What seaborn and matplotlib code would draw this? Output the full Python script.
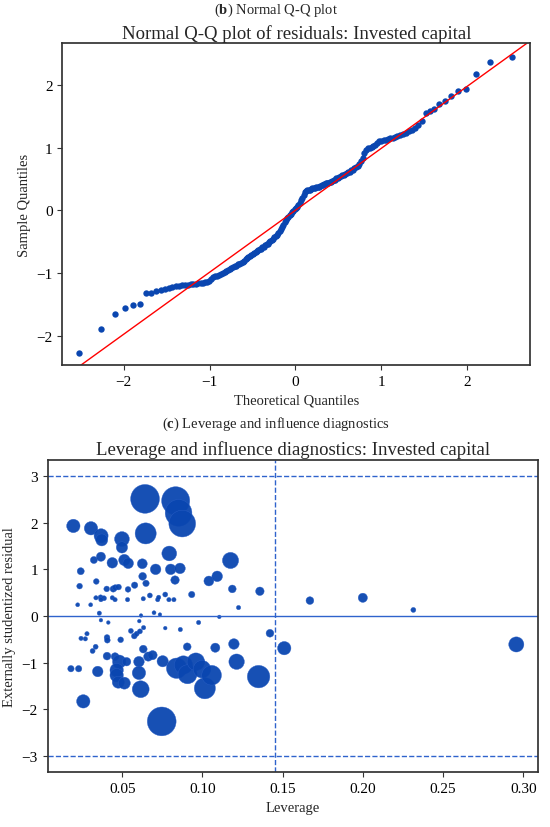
from statistics import NormalDist

import matplotlib
matplotlib.use("Agg")
import matplotlib.pyplot as plt
import numpy as np
import seaborn as sns

# panel (b): sorted residuals
qq_sample = [
    -2.27, -1.90, -1.65, -1.56, -1.51, -1.49, -1.32, -1.31, -1.29, -1.27,
    -1.25, -1.24, -1.22, -1.21, -1.20, -1.195,
    -1.19, -1.185, -1.18, -1.175, -1.17, -1.165, -1.16, -1.155, -1.15, -1.145, -1.13,
    -1.10, -1.07, -1.05, -1.04, -1.03, -1.02, -1.00, -0.99, -0.97, -0.95, -0.94, -0.92, -0.91,
    -0.89, -0.88, -0.86, -0.85, -0.84, -0.82, -0.80, -0.78, -0.76, -0.75,
    -0.73, -0.71, -0.70, -0.68, -0.67, -0.65, -0.64, -0.62, -0.61, -0.59,
    -0.58, -0.56, -0.54, -0.53, -0.51, -0.49, -0.47, -0.45, -0.43, -0.41,
    -0.39, -0.36, -0.33, -0.30, -0.26, -0.23, -0.19, -0.15, -0.12, -0.10,
    -0.08, -0.06, -0.03, -0.01, 0.02, 0.04, 0.06, 0.09, 0.12, 0.16,
    0.20, 0.25, 0.29, 0.31, 0.32, 0.33, 0.33, 0.34, 0.35, 0.36,
    0.36, 0.37, 0.38, 0.38, 0.39, 0.40, 0.41, 0.42, 0.43, 0.43,
    0.44, 0.45, 0.46, 0.47, 0.48, 0.49, 0.51, 0.52, 0.54, 0.55,
    0.56, 0.57, 0.58, 0.60, 0.61, 0.62, 0.64, 0.65, 0.67, 0.69,
    0.71, 0.74, 0.78, 0.83, 0.92, 0.97, 0.99, 1.00, 1.01, 1.02,
    1.04, 1.07, 1.10, 1.11, 1.12, 1.13, 1.14, 1.15, 1.16, 1.17, 1.18, 1.20, 1.22, 1.24,
    1.26, 1.28, 1.31, 1.36, 1.43, 1.56, 1.59, 1.62, 1.69, 1.74,
    1.83, 1.91, 1.94, 2.18, 2.37, 2.45,
]

# panel (c): leverage, externally studentized residual, Cook's distance
leverage = [
    0.0195, 0.0305, 0.0368, 0.0372, 0.0498, 0.0498, 0.0642, 0.0833, 0.0851, 0.0874,
    0.0646, 0.0241, 0.0323, 0.0367, 0.0438, 0.0513, 0.0537, 0.0625, 0.0627, 0.0648,
    0.0708, 0.0793, 0.0802, 0.0860, 0.0829, 0.1040, 0.1092, 0.1175, 0.1186, 0.1358,
    0.0933, 0.0234, 0.0338, 0.0222, 0.0303, 0.0336, 0.0365, 0.0386, 0.0367, 0.0403,
    0.0444, 0.0457, 0.0477, 0.0438, 0.0455, 0.0536, 0.0533, 0.0577, 0.0631, 0.0672,
    0.0617, 0.0698, 0.0735, 0.0357, 0.0721, 0.0727, 0.0768, 0.0791, 0.0822, 0.1225,
    0.1105, 0.0367, 0.0413, 0.0606, 0.0768, 0.0862, 0.0976, 0.0243, 0.0270, 0.0280,
    0.0334, 0.0315, 0.0405, 0.0407, 0.0490, 0.0554, 0.0575, 0.0590, 0.0610, 0.0633,
    0.1421, 0.0405, 0.0455, 0.0347, 0.0180, 0.0228, 0.0257, 0.0481, 0.0527, 0.0465,
    0.0465, 0.0475, 0.0513, 0.0604, 0.0604, 0.0615, 0.0631, 0.0662, 0.0689, 0.0752,
    0.0746, 0.0839, 0.0881, 0.0907, 0.0905, 0.0959, 0.0997, 0.1015, 0.1057, 0.1080,
    0.1196, 0.1213, 0.1350, 0.1670, 0.2000, 0.2315, 0.2957, 0.1510,
]
stud_resid = [
    1.93, 1.88, 1.72, 1.63, 1.65, 1.47, 2.51, 2.47, 2.21, 1.98,
    1.77, 0.96, 1.20, 1.27, 1.14, 1.20, 1.13, 1.12, 0.85, 0.70,
    1.00, 1.34, 1.00, 1.02, 0.77, 0.75, 0.85, 1.19, 0.58, 0.53,
    0.46, 0.64, 0.74, 0.24, 0.24, 0.39, 0.40, 0.38, 0.35, 0.58,
    0.58, 0.61, 0.62, 0.39, 0.35, 0.57, 0.35, 0.66, 0.37, 0.44,
    0.01, 0.07, 0.03, 0.06, 0.35, 0.40, 0.46, 0.35, 0.35, 0.18,
    -0.02, -0.09, -0.14, -0.11, -0.26, -0.29, -0.14, -0.48, -0.49, -0.38,
    -0.66, -0.75, -0.46, -0.52, -0.51, -0.32, -0.43, -0.38, -0.33, -0.25,
    -0.37, -0.86, -0.87, -1.19, -1.13, -1.13, -1.83, -0.98, -0.98, -1.16,
    -1.27, -1.42, -1.44, -0.98, -1.22, -1.57, -0.71, -0.87, -0.84, -0.97,
    -2.26, -1.12, -1.05, -1.25, -0.66, -0.98, -1.14, -1.55, -1.27, -0.68,
    -0.60, -0.98, -1.30, 0.33, 0.39, 0.13, -0.61, -0.69,
]
cooks_d = [
    0.0258, 0.0258, 0.0285, 0.0206, 0.0315, 0.0183, 0.1200, 0.1142, 0.1031, 0.1031,
    0.0642, 0.0071, 0.0071, 0.0121, 0.0161, 0.0183, 0.0161, 0.0140, 0.0086, 0.0058,
    0.0161, 0.0315, 0.0161, 0.0161, 0.0103, 0.0140, 0.0161, 0.0378, 0.0086, 0.0103,
    0.0058, 0.0046, 0.0046, 0.0022, 0.0022, 0.0026, 0.0035, 0.0035, 0.0026, 0.0046,
    0.0058, 0.0046, 0.0046, 0.0026, 0.0026, 0.0046, 0.0026, 0.0058, 0.0026, 0.0035,
    0.0018, 0.0022, 0.0018, 0.0026, 0.0026, 0.0026, 0.0035, 0.0026, 0.0026, 0.0026,
    0.0018, 0.0018, 0.0018, 0.0018, 0.0018, 0.0026, 0.0026, 0.0026, 0.0026, 0.0026,
    0.0035, 0.0035, 0.0046, 0.0046, 0.0046, 0.0035, 0.0046, 0.0035, 0.0035, 0.0026,
    0.0086, 0.0086, 0.0086, 0.0161, 0.0058, 0.0058, 0.0258, 0.0258, 0.0103, 0.0258,
    0.0258, 0.0206, 0.0206, 0.0161, 0.0258, 0.0411, 0.0086, 0.0121, 0.0121, 0.0183,
    0.1200, 0.0600, 0.0483, 0.0520, 0.0086, 0.0446, 0.0446, 0.0642, 0.0560, 0.0121,
    0.0161, 0.0345, 0.0731, 0.0086, 0.0121, 0.0035, 0.0330, 0.0258,
]
leverage_cutoff = 0.145
resid_cutoff = 3

caption_b = r"($\mathbf{b}$) Normal Q-Q plot"
caption_c = r"($\mathbf{c}$) Leverage and influence diagnostics"

sns.set_theme(style="ticks")
plt.rcParams["font.family"] = ["Liberation Serif", "DejaVu Serif"]
plt.rcParams["mathtext.fontset"] = "custom"
plt.rcParams["mathtext.rm"] = "Liberation Serif"
plt.rcParams["mathtext.bf"] = "Liberation Serif:bold"
plt.rcParams["axes.edgecolor"] = "#333333"
plt.rcParams["xtick.color"] = "#333333"
plt.rcParams["ytick.color"] = "#333333"
plt.rcParams["xtick.labelcolor"] = "black"
plt.rcParams["ytick.labelcolor"] = "black"

point_blue = "#0a46b0"
line_blue = "#2f63cc"

fig = plt.figure(figsize=(5.5, 8.28), dpi=100)

# Normal Q-Q plot
n = len(qq_sample)
theo = [NormalDist().inv_cdf(i / (n + 1)) for i in range(1, n + 1)]
ax1 = fig.add_axes([0.1133, 0.558, 0.851, 0.3885])
sns.scatterplot(x=theo, y=qq_sample, ax=ax1, color=point_blue, s=21,
                linewidth=0, legend=False)
slope, intercept = np.polyfit(theo, qq_sample, 1)
ax1.axline((0, intercept), slope=slope, color="red", lw=1)
ax1.set_xlim(-2.716, 2.739)
ax1.set_ylim(-2.466, 2.665)
ax1.set_xticks([-2, -1, 0, 1, 2])
ax1.set_yticks([-2, -1, 0, 1, 2])
ax1.set_title("Normal Q-Q plot of residuals: Invested capital", fontsize=13.5, pad=4)
ax1.set_xlabel("Theoretical Quantiles", fontsize=10.5)
ax1.set_ylabel("Sample Quantiles", fontsize=10.5)
ax1.tick_params(labelsize=11, length=3.5, width=0.8)

# Leverage and influence plot
ax2 = fig.add_axes([0.0867, 0.0661, 0.892, 0.3775])
sns.scatterplot(x=leverage, y=stud_resid, size=cooks_d, sizes=(7, 430),
                ax=ax2, color=point_blue, alpha=0.95, edgecolor="#2a5fc6",
                linewidth=0.3, legend=False)
ax2.axhline(0, color=line_blue, lw=1)
ax2.axhline(resid_cutoff, color=line_blue, lw=1, ls="--")
ax2.axhline(-resid_cutoff, color=line_blue, lw=1, ls="--")
ax2.axvline(leverage_cutoff, color=line_blue, lw=1, ls="--")
ax2.set_xlim(0.0035, 0.3094)
ax2.set_ylim(-3.35, 3.35)
ax2.set_xticks([0.05, 0.10, 0.15, 0.20, 0.25, 0.30])
ax2.set_yticks([-3, -2, -1, 0, 1, 2, 3])
ax2.xaxis.set_major_formatter(matplotlib.ticker.FormatStrFormatter("%.2f"))
ax2.set_title("Leverage and influence diagnostics: Invested capital", fontsize=13.5, pad=4)
ax2.set_xlabel("Leverage", fontsize=10.5)
ax2.set_ylabel("Externally studentized residual", fontsize=10.5)
ax2.tick_params(labelsize=11, length=3.5, width=0.8)

fig.text(0.502, 0.988, caption_b, ha="center", va="center", fontsize=10.5)
fig.text(0.502, 0.488, caption_c, ha="center", va="center", fontsize=10.5)

fig.savefig("out.png", dpi=100)
